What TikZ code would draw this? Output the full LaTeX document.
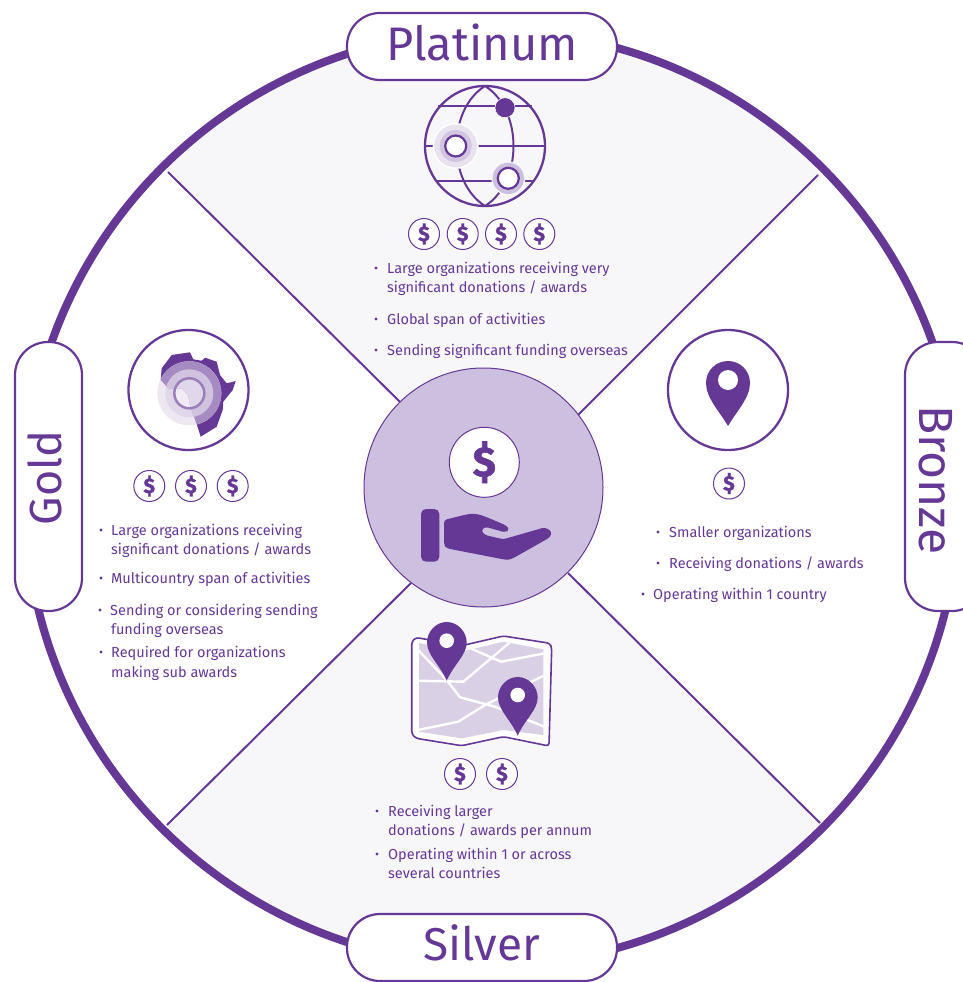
\documentclass[tikz,border=0pt]{standalone}
\usepackage{fontspec}
\setmainfont{Fira Sans}
\newfontfamily\dollarfont[FakeBold=1.3]{Fira Sans Bold}
\definecolor{pur}{HTML}{653895}
\definecolor{panel}{HTML}{F7F7FA}
\definecolor{hub}{HTML}{CDBFDF}
\definecolor{maplav}{HTML}{DAD0E6}
\tikzset{
  x=1pt,y=-1pt,
  pill/.style={draw=pur,line width=2.2pt,fill=white,rounded corners=33pt},
  title/.style={text=pur,font=\fontsize{#1}{50}\selectfont},
  coin/.style={circle,draw=pur,line width=1pt,fill=white,minimum size=31pt,inner sep=0pt,text=pur,font=\dollarfont\fontsize{21}{21}\selectfont},
  bigring/.style={circle,draw=pur,line width=2.3pt,fill=white,minimum size=120pt,inner sep=0pt},
  txt/.style={anchor=base west,inner sep=0pt,text=pur,font=\fontsize{14.5}{17}\selectfont},
  bul/.style={circle,fill=pur,inner sep=0pt,minimum size=3.4pt},
  spoke/.style={draw=pur,line width=2pt},
  road/.style={draw=white,line width=2.4pt},
}
\newcommand{\itemline}[5]{%
  \node[bul] (#1b) at (#2,#4) {};
  \node[txt] (#1) at (#3,#4+5) {#5};}
\newcommand{\contline}[4]{\node[txt] (#1) at (#2,#3+5) {#4};}
\begin{document}
\begin{tikzpicture}
\path[use as bounding box,clip] (0,0) rectangle (963,982);
\fill[white] (0,0) rectangle (963,982);
% sectors
\coordinate (ringc) at (492,498);
\coordinate (cross) at (494,498);
\coordinate (tl) at (168,172);
\coordinate (tr) at (818,175);
\coordinate (bl) at (167,825);
\coordinate (br) at (820,823);
\begin{scope}
\clip (ringc) circle[radius=465pt];
\fill[panel] (cross) -- (-32,-28) -- (1018,-25) -- cycle;
\fill[panel] (cross) -- (-33,1025) -- (1020,1023) -- cycle;
\end{scope}
\draw[pur,line width=8pt] (ringc) circle[radius=467pt];
% hub + spokes
\coordinate (hc) at (483.5,487.5);
\draw[spoke] (tl) -- (400,402);
\draw[spoke] (tr) -- (578,415);
\draw[spoke] (bl) -- (411,583);
\draw[spoke] (br) -- (568,573);
\node[circle,draw=pur,line width=1pt,fill=hub,minimum size=239pt,inner sep=0pt] (hub) at (hc) {};
% pills
\draw[pill] (347,13) rectangle (617,80);
\draw[pill] (347,914) rectangle (617,981);
\draw[pill] (15,342) rectangle (82,611);
\draw[pill] (905,342) rectangle (985,611);
\node[title=47] (platinum) at (482,42.5) {Platinum};
\node[title=46] (silver) at (482,943) {Silver};
\node[title=45,rotate=90] (gold) at (45,478) {Gold};
\node[title=48,rotate=-90] (bronze) at (936,480) {Bronze};
% hub icon
\node[coin,minimum size=70pt,font=\dollarfont\fontsize{42}{42}\selectfont] (hubcoin) at (484.3,462.3) {\$};
\fill[pur,rounded corners=5pt] (421,509) rectangle (439.3,561.7);
\fill[pur,rounded corners=3pt] (444,520) -- (467,514.3) .. controls (478,513) and (484,516) .. (506.7,525.7) -- (509.5,530) -- (505,532.3) -- (485,526.7) -- (481,530.7) -- (485,535) -- (503.3,539.3) -- (545,527.3) -- (552,531.7) -- (550,537.3) -- (511.7,559) -- (506.7,560) -- (446.7,548.3) -- (444,545) -- cycle;
% platinum icon: globe
\draw[pur,line width=2.3pt] (485,146) circle[radius=60pt];
\draw[pur,line width=2pt] (485,86) .. controls (447,110) and (447,182) .. (485,206);
\draw[pur,line width=2pt] (485,86) .. controls (523,110) and (523,182) .. (485,206);
\draw[pur,line width=2pt] (438,106) -- (532,106);
\draw[pur,line width=2pt] (425,146) -- (545,146);
\draw[pur,line width=2pt] (437,180.7) -- (533,180.7);
\node[circle,fill=pur,draw=white,line width=.5pt,minimum size=20pt,inner sep=0pt] (dot1) at (505,107.7) {};
\fill[white] (455.7,146) circle[radius=23pt];
\fill[white!40!maplav] (455.7,146) circle[radius=21.5pt];
\fill[hub!90!white] (455.7,146) circle[radius=16pt];
\node[circle,fill=white,draw=pur,line width=2.2pt,minimum size=21pt,inner sep=0pt] (dot2) at (455.7,146) {};
\fill[panel] (508.3,178.3) circle[radius=17pt];
\fill[hub] (508.3,178.3) circle[radius=15.7pt];
\node[circle,fill=white,draw=pur,line width=2.2pt,minimum size=21pt,inner sep=0pt] (dot3) at (508.3,178.3) {};
% coins
\node[coin] (p1) at (424,234) {\$};
\node[coin] (p2) at (462.7,234) {\$};
\node[coin] (p3) at (501,234) {\$};
\node[coin] (p4) at (539.3,234) {\$};
\node[coin] (g1) at (149.3,486) {\$};
\node[coin] (g2) at (191,486) {\$};
\node[coin] (g3) at (232.7,486) {\$};
\node[coin] (b1) at (729,483.5) {\$};
\node[coin] (s1) at (460,774) {\$};
\node[coin] (s2) at (502,774) {\$};
% gold icon: Africa
\node[bigring] (goldring) at (188.5,390) {};
\def\africa{(161.7,368.3) -- (171.7,355) -- (190,352.3) -- (193.3,359.3) -- (201.7,360.7) -- (205,357.7) -- (216.7,361.7) -- (220,375) -- (226.7,383.3) -- (235.7,381) -- (232.7,390) -- (223.3,401.7) -- (222.7,410) -- (216.7,426.7) -- (200.7,436.7) -- (197.3,426) -- (193.3,415) -- (190,405) -- (188.3,395) -- (181.7,388.3) -- (168.3,388.3) -- (160.7,380) -- cycle}
\fill[pur] \africa;
\fill[pur!12!white] (189.3,393.3) circle[radius=32pt];
\fill[pur!20!white] (189.3,393.3) circle[radius=24pt];
\fill[pur!10!white] (189.3,393.3) circle[radius=15pt];
\begin{scope}
\clip \africa;
\fill[pur!58!white] (189.3,393.3) circle[radius=32pt];
\fill[pur!30!white] (189.3,393.3) circle[radius=24pt];
\fill[pur!20!white] (189.3,393.3) circle[radius=15pt];
\end{scope}
\draw[pur!65!white,line width=2.5pt] (189.3,393.3) circle[radius=15pt];
% bronze icon
\node[bigring] (bronzering) at (728,390) {};
\fill[pur] (728,426) .. controls (720,412) and (706,398) .. (706,383) .. controls (706,370.5) and (716,361) .. (728,361) .. controls (740,361) and (750,370.5) .. (750,383) .. controls (750,398) and (736,412) .. (728,426) -- cycle;
\fill[white] (728,380) circle[radius=10pt];
% silver icon: map
\draw[pur,line width=1.6pt,fill=white,rounded corners=3pt,line join=round] (411.7,641.7) -- (416,637.5) -- (461.7,645.7) -- (503.3,636) -- (550,643.3) -- (551.7,648) -- (549,746) -- (503.3,736.7) -- (461.7,745.7) -- (416,738.3) -- (411.7,734) -- cycle;
\begin{scope}
\clip (419,643) -- (461.7,651.7) -- (503.3,641.7) -- (543.3,649.3) -- (543.3,735) -- (503.3,730) -- (461.7,738.3) -- (419,731.7) -- cycle;
\fill[maplav] (400,630) rectangle (560,750);
\draw[road] (415,646.7) -- (446.7,680) -- (460,697.3) -- (495,706.7) -- (545,727);
\draw[road] (418,680.7) -- (463.3,681.7) -- (510,642.3);
\draw[road] (466.7,646.7) -- (501,661.7) -- (545,653.3);
\draw[road] (418,730) -- (458.3,721.7) -- (485,705) -- (545,675);
\end{scope}
\fill[pur] (446.7,680.7) .. controls (440,665) and (427,655) .. (427,642.5) .. controls (427,631.5) and (436,622) .. (446.7,622) .. controls (457.4,622) and (466.7,631.5) .. (466.7,642.5) .. controls (466.7,655) and (453.4,665) .. (446.7,680.7) -- cycle;
\fill[white] (446.7,640.7) circle[radius=7.3pt];
\fill[pur] (517.7,735.7) .. controls (511,720) and (498,710) .. (498,697.5) .. controls (498,686.5) and (507,677) .. (517.7,677) .. controls (528.4,677) and (537.7,686.5) .. (537.7,697.5) .. controls (537.7,710) and (524.4,720) .. (517.7,735.7) -- cycle;
\fill[white] (517.7,695) circle[radius=7.3pt];
% texts platinum
\itemline{pa}{376}{387}{268}{Large organizations receiving very}
\contline{pb}{387}{287}{significant donations / awards}
\itemline{pc}{376}{387}{319}{Global span of activities}
\itemline{pd}{376}{387}{350}{Sending significant funding overseas}
% gold
\itemline{ga}{101}{111}{530}{Large organizations receiving}
\contline{gb}{111}{549}{significant donations / awards}
\itemline{gc}{101}{111}{578}{Multicountry span of activities}
\itemline{gd}{100}{110}{610}{Sending or considering sending}
\contline{ge}{111}{629}{funding overseas}
\itemline{gf}{101}{111}{652}{Required for organizations}
\contline{gg}{111}{672}{making sub awards}
% bronze
\itemline{ba}{658}{669}{532}{Smaller organizations}
\itemline{bb}{658}{669}{563}{Receiving donations / awards}
\itemline{bc}{643}{653}{594}{Operating within 1 country}
% silver
\itemline{sa}{377}{388}{811}{Receiving larger}
\contline{sb}{388}{830}{donations / awards per annum}
\itemline{sc}{377}{388}{854}{Operating within 1 or across}
\contline{sd}{388}{873}{several countries}
\end{tikzpicture}
\end{document}
